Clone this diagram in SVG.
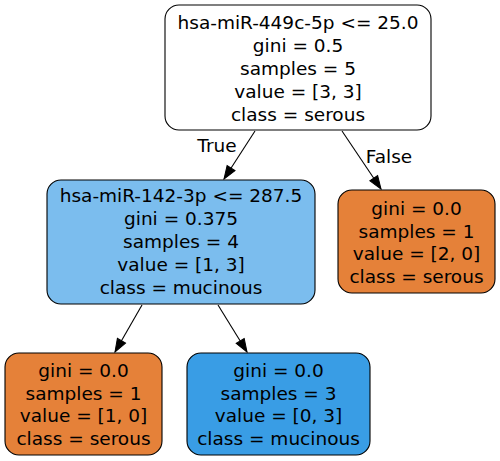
<svg xmlns="http://www.w3.org/2000/svg" width="500" height="461" viewBox="0 0 500 461">
<style>
.n{stroke:#000;stroke-width:1.1}
.t{font-family:"DejaVu Sans",sans-serif;font-size:18.5px;fill:#000;text-anchor:middle}
.e{stroke:#000;stroke-width:1.1;fill:none}
</style>
<defs>
<marker id="ah" markerUnits="userSpaceOnUse" markerWidth="14" markerHeight="10" refX="13" refY="4.7" orient="auto" overflow="visible">
<path d="M0,0 L13,4.7 L0,9.4 Z" fill="#000" stroke="#000" stroke-width="1"/>
</marker>
</defs>
<rect width="500" height="461" fill="#fff"/>
<g id="edges">
<line class="e" x1="255" y1="131" x2="224" y2="179" marker-end="url(#ah)"/>
<line class="e" x1="342" y1="131" x2="381" y2="189" marker-end="url(#ah)"/>
<line class="e" x1="142" y1="305" x2="115" y2="352" marker-end="url(#ah)"/>
<line class="e" x1="218" y1="305" x2="247" y2="352" marker-end="url(#ah)"/>
<text class="t" x="217" y="152">True</text>
<text class="t" x="389" y="163">False</text>
</g>
<g id="node0">
<rect class="n" x="165" y="5" width="266" height="125" rx="14" fill="#ffffff"/>
<text class="t" x="298" y="29">hsa-miR-449c-5p &lt;= 25.0</text>
<text class="t" x="298" y="52">gini = 0.5</text>
<text class="t" x="298" y="75">samples = 5</text>
<text class="t" x="298" y="98">value = [3, 3]</text>
<text class="t" x="298" y="121">class = serous</text>
</g>
<g id="node1">
<rect class="n" x="47" y="180" width="268" height="124" rx="14" fill="#7bbdee"/>
<text class="t" x="181" y="202">hsa-miR-142-3p &lt;= 287.5</text>
<text class="t" x="181" y="225">gini = 0.375</text>
<text class="t" x="181" y="248">samples = 4</text>
<text class="t" x="181" y="271">value = [1, 3]</text>
<text class="t" x="181" y="294">class = mucinous</text>
</g>
<g id="node4">
<rect class="n" x="338" y="190" width="157" height="103" rx="14" fill="#e58139"/>
<text class="t" x="416.5" y="215">gini = 0.0</text>
<text class="t" x="416.5" y="237.5">samples = 1</text>
<text class="t" x="416.5" y="260">value = [2, 0]</text>
<text class="t" x="416.5" y="283">class = serous</text>
</g>
<g id="node2">
<rect class="n" x="5" y="353" width="157" height="102" rx="14" fill="#e58139"/>
<text class="t" x="83.5" y="377">gini = 0.0</text>
<text class="t" x="83.5" y="399.5">samples = 1</text>
<text class="t" x="83.5" y="422">value = [1, 0]</text>
<text class="t" x="83.5" y="445">class = serous</text>
</g>
<g id="node3">
<rect class="n" x="187" y="353" width="183" height="102" rx="14" fill="#399de5"/>
<text class="t" x="278.5" y="377">gini = 0.0</text>
<text class="t" x="278.5" y="399.5">samples = 3</text>
<text class="t" x="278.5" y="422">value = [0, 3]</text>
<text class="t" x="278.5" y="445">class = mucinous</text>
</g>
</svg>
